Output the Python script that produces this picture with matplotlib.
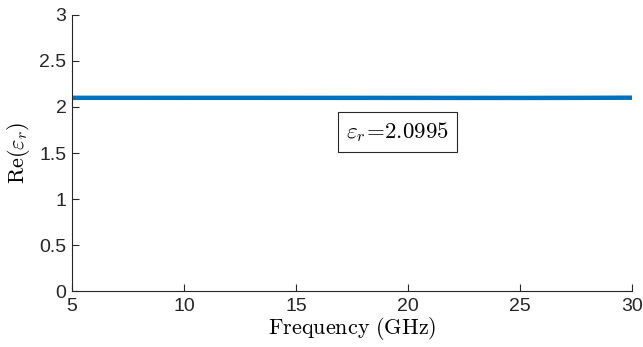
import numpy as np
from matplotlib import pyplot as plt

plt.rcParams['mathtext.fontset'] = 'cm'
plt.rcParams['font.family'] = ['Liberation Sans', 'DejaVu Sans']

# data
freq = [5, 7.5, 10, 12.5, 15, 17.5, 20, 22.5, 25, 27.5, 30]
eps_re = [2.0995, 2.0995, 2.0994, 2.0994, 2.0993, 2.0992, 2.0990, 2.0987, 2.0985, 2.0992, 2.1010]
eps_label = '2.0995'

fig = plt.figure(figsize=(6.43, 3.47), dpi=100)
ax = fig.add_axes([0.112, 0.161, 0.871, 0.796])

ax.plot(freq, eps_re, color=(0, 0.447, 0.741), linewidth=3.2, solid_capstyle='butt')

ax.set_xlim(5, 30)
ax.set_ylim(0, 3)
ax.set_xticks(np.arange(5, 31, 5))
ax.set_yticks(np.arange(0, 3.01, 0.5))
ax.set_yticklabels(['0', '0.5', '1', '1.5', '2', '2.5', '3'])

for s in ['top', 'right']:
    ax.spines[s].set_visible(False)
for s in ['left', 'bottom']:
    ax.spines[s].set_color('#262626')
    ax.spines[s].set_linewidth(0.8)
ax.tick_params(direction='in', length=5, width=0.8, colors='#262626', labelsize=14)
ax.tick_params(axis='x', pad=5)
ax.tick_params(axis='y', pad=4)

ax.set_xlabel(r'$\mathrm{Frequency\ (GHz)}$', fontsize=16, labelpad=0)
ax.set_ylabel(r'$\mathrm{Re}(\varepsilon_r)$', fontsize=16, labelpad=5)

ax.text(17.22, 1.73, r'$\varepsilon_r\!=\!$' + r'$\mathrm{' + eps_label + '}$', fontsize=16.5,
        va='center', ha='left',
        bbox=dict(boxstyle='square,pad=0.36', facecolor='white', edgecolor='#262626', linewidth=0.8))

fig.savefig('out.png', dpi=100)
